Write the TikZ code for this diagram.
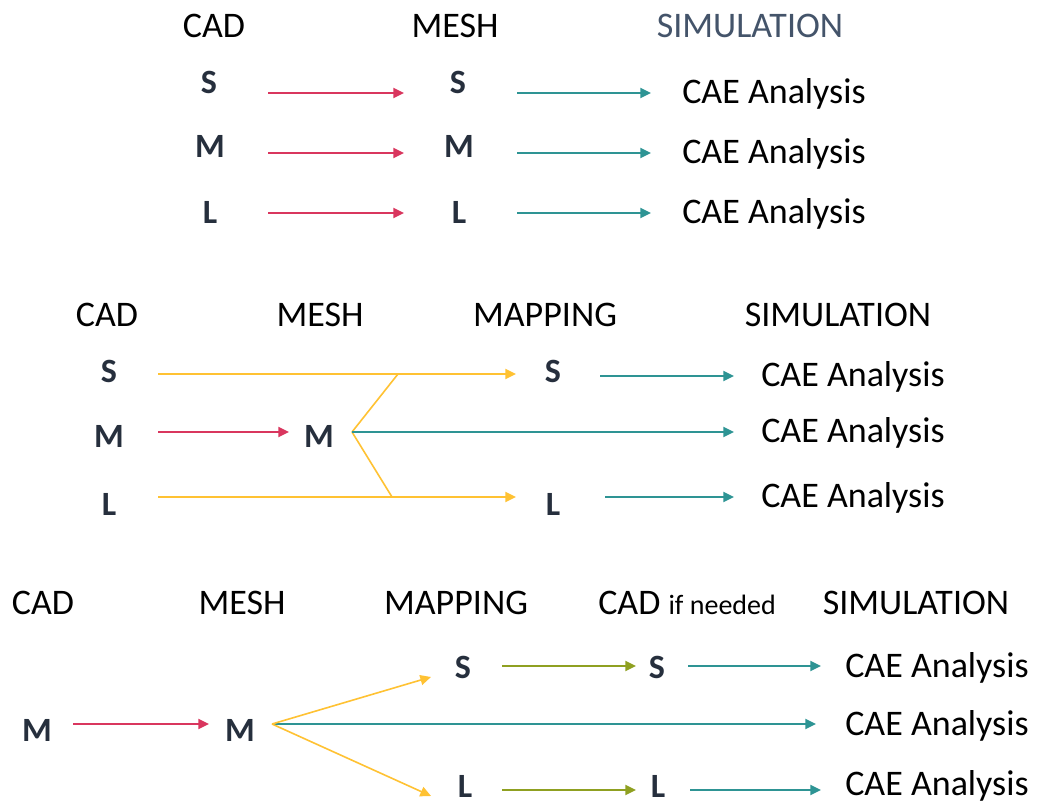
\documentclass[tikz,border=0pt]{standalone}
\usepackage{fontspec}
\setmainfont{Carlito}
\usetikzlibrary{arrows.meta}
\definecolor{cred}{HTML}{D9365E}
\definecolor{cteal}{HTML}{2E9494}
\definecolor{cyel}{HTML}{FFC233}
\definecolor{coli}{HTML}{8FA021}
\definecolor{ink}{HTML}{262F3D}
\definecolor{slate}{HTML}{44546A}
\begin{document}
\begin{tikzpicture}[x=0.75pt,y=-0.75pt,
  hdr/.style={font=\fontsize{27}{31}\selectfont, inner sep=0pt, anchor=base},
  ltr/.style={font=\fontsize{25.5}{29}\selectfont\bfseries, text=ink, inner sep=0pt, anchor=base},
  cae/.style={font=\fontsize{27}{31}\selectfont, inner sep=0pt, anchor=base west},
  arr/.style={line width=1.6pt, -{Triangle[length=8pt,width=7.5pt]}},
  redarr/.style={arr, draw=cred},
  tealarr/.style={arr, draw=cteal},
  yelarr/.style={arr, draw=cyel},
  oliarr/.style={arr, draw=coli},
  yelline/.style={line width=1.2pt, draw=cyel}]
\useasboundingbox[fill=white] (0,0) rectangle (1040,805);

% ---------- Section 1 ----------
\node[hdr] (h1cad) at (214,38) {CAD};
\node[hdr] (h1mesh) at (455,38) {MESH};
\node[hdr, text=slate] (h1sim) at (750,38) {SIMULATION};
\node[ltr] (c1s) at (209,94) {S};
\node[ltr] (c1m) at (210,158) {M};
\node[ltr] (c1l) at (210,224) {L};
\node[ltr] (m1s) at (458,94) {S};
\node[ltr] (m1m) at (459,158) {M};
\node[ltr] (m1l) at (459,224) {L};
\node[cae] (s1s) at (682,104) {CAE Analysis};
\node[cae] (s1m) at (682,164) {CAE Analysis};
\node[cae] (s1l) at (682,224) {CAE Analysis};
\foreach \n/\y in {s/93,m/153,l/213}{
  \coordinate (r1\n a) at (268,\y); \coordinate (r1\n b) at (404,\y);
  \coordinate (t1\n a) at (517,\y); \coordinate (t1\n b) at (651,\y);
  \draw[redarr] (r1\n a) -- (r1\n b);
  \draw[tealarr] (t1\n a) -- (t1\n b);
}

% ---------- Section 2 ----------
\node[hdr] (h2cad) at (107,327) {CAD};
\node[hdr] (h2mesh) at (320,327) {MESH};
\node[hdr] (h2map) at (545,327) {MAPPING};
\node[hdr] (h2sim) at (838,327) {SIMULATION};
\node[ltr] (c2s) at (109,383) {S};
\node[ltr] (c2m) at (109,448) {M};
\node[ltr] (c2l) at (109,516) {L};
\node[ltr] (m2m) at (319,448) {M};
\node[ltr] (p2s) at (553,383) {S};
\node[ltr] (p2l) at (553,516) {L};
\node[cae] (s2s) at (761,387) {CAE Analysis};
\node[cae] (s2m) at (761,443) {CAE Analysis};
\node[cae] (s2l) at (761,508) {CAE Analysis};
\coordinate (y2sa) at (158,374); \coordinate (y2sb) at (516,374);
\coordinate (y2la) at (158,497); \coordinate (y2lb) at (516,497);
\coordinate (r2a) at (158,432); \coordinate (r2b) at (289,432);
\coordinate (br2) at (352,432);
\coordinate (j2s) at (398,374); \coordinate (j2l) at (392,497);
\coordinate (t2sa) at (600,376); \coordinate (t2sb) at (734,376);
\coordinate (t2m) at (734,432);
\coordinate (t2la) at (605,497); \coordinate (t2lb) at (734,497);
\draw[yelarr] (y2sa) -- (y2sb);
\draw[yelarr] (y2la) -- (y2lb);
\draw[yelline] (br2) -- (j2s);
\draw[yelline] (br2) -- (j2l);
\draw[redarr] (r2a) -- (r2b);
\draw[tealarr] (br2) -- (t2m);
\draw[tealarr] (t2sa) -- (t2sb);
\draw[tealarr] (t2la) -- (t2lb);

% ---------- Section 3 ----------
\node[hdr] (h3cad) at (43,615) {CAD};
\node[hdr] (h3mesh) at (242,615) {MESH};
\node[hdr] (h3map) at (456,615) {MAPPING};
\node[hdr, anchor=base west] (h3cad2) at (598,615) {CAD \fontsize{21}{24}\selectfont if needed};
\node[hdr] (h3sim) at (916,615) {SIMULATION};
\node[ltr] (c3m) at (37,741) {M};
\node[ltr] (m3m) at (240,741) {M};
\node[ltr] (p3s) at (463,678) {S};
\node[ltr] (p3l) at (465,797) {L};
\node[ltr] (d3s) at (657,678) {S};
\node[ltr] (d3l) at (658,797) {L};
\node[cae] (s3s) at (845,677) {CAE Analysis};
\node[cae] (s3m) at (845,735) {CAE Analysis};
\node[cae] (s3l) at (845,795) {CAE Analysis};
\coordinate (r3a) at (73,724); \coordinate (r3b) at (209,724);
\coordinate (br3) at (272,724);
\coordinate (y3s) at (431,677); \coordinate (y3l) at (431,796);
\coordinate (t3m) at (816,724);
\coordinate (o3sa) at (502,666); \coordinate (o3sb) at (636,666);
\coordinate (o3la) at (502,790); \coordinate (o3lb) at (636,790);
\coordinate (t3sa) at (688,666); \coordinate (t3sb) at (821,666);
\coordinate (t3la) at (690,790); \coordinate (t3lb) at (821,790);
\draw[redarr] (r3a) -- (r3b);
\draw[tealarr] (br3) -- (t3m);
\draw[yelarr, line width=1.2pt] (br3) -- (y3s);
\draw[yelarr, line width=1.2pt] (br3) -- (y3l);
\draw[oliarr] (o3sa) -- (o3sb);
\draw[oliarr] (o3la) -- (o3lb);
\draw[tealarr] (t3sa) -- (t3sb);
\draw[tealarr] (t3la) -- (t3lb);
\end{tikzpicture}
\end{document}
